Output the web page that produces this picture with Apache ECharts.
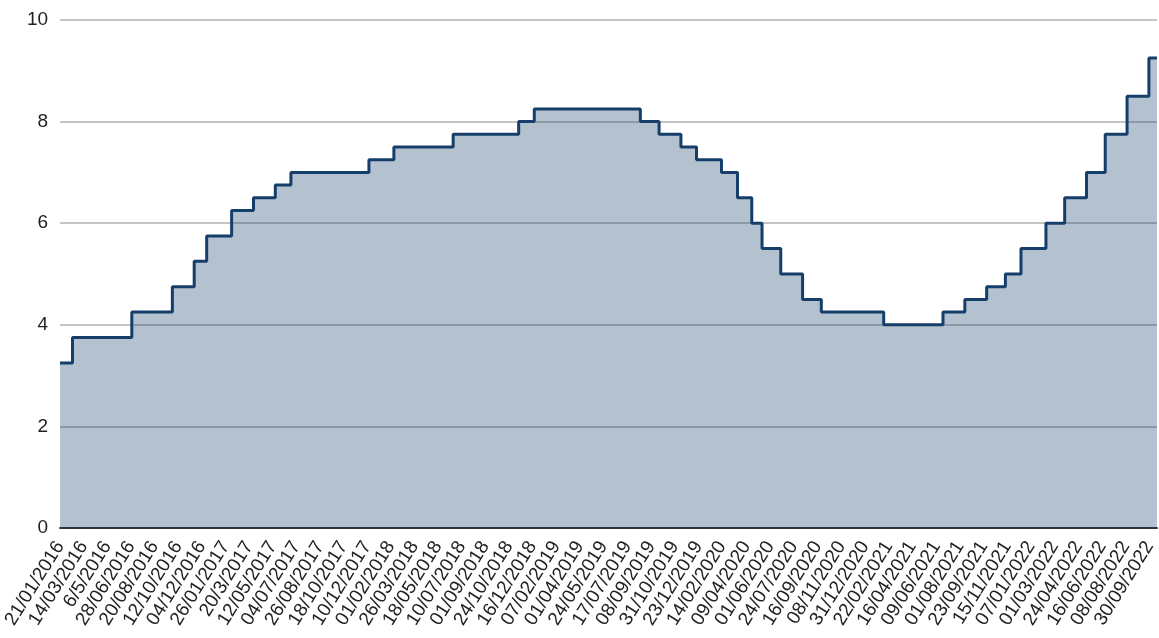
<!DOCTYPE html>
<html>
<head>
<meta charset="utf-8">
<script src="https://cdn.jsdelivr.net/npm/echarts@6/dist/echarts.min.js"></script>
<style>
html,body{margin:0;padding:0;background:#fff;}
#chart{width:1159px;height:638px;}
</style>
</head>
<body>
<div id="chart"></div>
<script>
// Dates (dd/mm/yyyy) where the rate changes, and the rate from that date
var changeDates = [
  "21/01/2016","18/02/2016","30/06/2016","29/09/2016","17/11/2016","15/12/2016",
  "09/02/2017","30/03/2017","18/05/2017","22/06/2017","14/12/2017",
  "08/02/2018","21/06/2018","15/11/2018","20/12/2018",
  "15/08/2019","26/09/2019","14/11/2019","19/12/2019",
  "13/02/2020","20/03/2020","21/04/2020","14/05/2020","25/06/2020","13/08/2020","24/09/2020",
  "11/02/2021","24/06/2021","12/08/2021","30/09/2021","11/11/2021","16/12/2021",
  "10/02/2022","24/03/2022","12/05/2022","23/06/2022","11/08/2022","29/09/2022",
  "17/10/2022"
];
var rateValues = [
  3.25,3.75,4.25,4.75,5.25,5.75,
  6.25,6.5,6.75,7.0,7.25,
  7.5,7.75,8.0,8.25,
  8.0,7.75,7.5,7.25,
  7.0,6.5,6.0,5.5,5.0,4.5,4.25,
  4.0,4.25,4.5,4.75,5.0,5.5,
  6.0,6.5,7.0,7.75,8.5,9.25,
  9.25
];
var tickLabels = [
  "21/01/2016","14/03/2016","6/5/2016","28/06/2016","20/08/2016","12/10/2016","04/12/2016",
  "26/01/2017","20/3/2017","12/05/2017","04/07/2017","26/08/2017","18/10/2017","10/12/2017",
  "01/02/2018","26/03/2018","18/05/2018","10/07/2018","01/09/2018","24/10/2018","16/12/2018",
  "07/02/2019","01/04/2019","24/05/2019","17/07/2019","08/09/2019","31/10/2019","23/12/2019",
  "14/02/2020","09/04/2020","01/06/2020","24/07/2020","16/09/2020","08/11/2020","31/12/2020",
  "22/02/2021","16/04/2021","09/06/2021","01/08/2021","23/09/2021","15/11/2021",
  "07/01/2022","01/03/2022","24/04/2022","16/06/2022","08/08/2022","30/09/2022"
];
var yTicks = [0,2,4,6,8,10];

// day number since 1970-01-01 (UTC)
function parseDay(s){
  var p = s.split("/");
  return Math.round(Date.UTC(+p[2], +p[1]-1, +p[0]) / 86400000);
}
var seriesData = changeDates.map(function(d,i){ return [parseDay(d), rateValues[i]]; });
var tickValues = tickLabels.map(parseDay);
var labelMap = {};
tickLabels.forEach(function(l,i){ labelMap[tickValues[i]] = l; });

var FONT = "'Liberation Sans', Arial, sans-serif";
var chart = echarts.init(document.getElementById('chart'), null, {renderer:'canvas'});
chart.setOption({
  animation:false,
  backgroundColor:'#ffffff',
  grid:{left:60, right:0, top:20, bottom:110, containLabel:false},
  xAxis:{
    type:'value',
    min:seriesData[0][0],
    max:seriesData[seriesData.length-1][0],
    scale:true,
    axisLine:{show:true, onZero:false, lineStyle:{color:'#333333', width:2}},
    axisTick:{show:false},
    splitLine:{show:false},
    axisLabel:{
      customValues: tickValues,
      rotate:58,
      margin:15,
      color:'#222222',
      fontFamily:FONT,
      fontSize:19,
      hideOverlap:false,
      showMinLabel:true,
      showMaxLabel:true,
      formatter:function(v){ return labelMap[v] || ''; }
    }
  },
  yAxis:{
    type:'value',
    min:yTicks[0],
    max:yTicks[yTicks.length-1],
    interval:2,
    axisLine:{show:false},
    axisTick:{show:false},
    axisLabel:{color:'#222222', fontFamily:FONT, fontSize:19, margin:12},
    splitLine:{show:true, lineStyle:{color:'#c4c4c4', width:2}}
  },
  series:[{
    type:'line',
    step:'end',
    data:seriesData,
    symbol:'none',
    lineStyle:{color:'#153e6a', width:3},
    areaStyle:{color:'#153e6a', opacity:0.32},
    z:3
  }]
});
</script>
</body>
</html>
